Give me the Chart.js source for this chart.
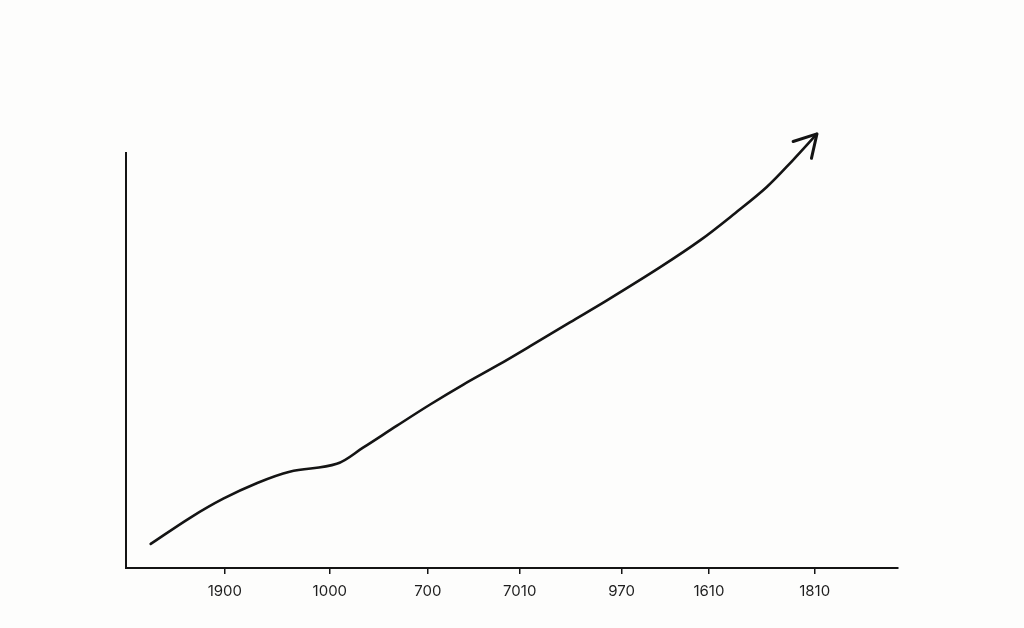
<!DOCTYPE html>
<html>
<head>
<meta charset="utf-8">
<script src="https://cdn.jsdelivr.net/npm/chart.js@4/dist/chart.umd.min.js"></script>
<style>
  html, body { margin: 0; padding: 0; background: #fdfdfc; }
  #wrap { width: 1024px; height: 628px; }
</style>
</head>
<body>
<div id="wrap"><canvas id="chart" width="1024" height="628"></canvas></div>
<script>
// tick labels and where they sit on the x axis (0-100 units)
const tickLabels = ['1900', '1000', '700', '7010', '970', '1610', '1810'];
const tickPositions = [12.8, 26.4, 39.1, 51.0, 64.2, 75.5, 89.2];

// the curve
const curveX = [3.2, 8.3, 12.6, 17.0, 21.2, 27.3, 30.7, 35.1, 39.4, 43.7, 48.1, 52.3,
                57.5, 62.3, 69.2, 74.4, 78.9, 83.0, 86.4, 89.5];
const curveY = [5.8, 12.1, 16.7, 20.5, 23.2, 25.1, 29.0, 34.3, 39.4, 44.2, 48.8, 53.4,
                59.2, 64.5, 72.5, 79.0, 85.5, 91.8, 98.3, 104.6];

const ink = '#141414';

// draws the arrow head at the end of the line
const arrowHead = {
  id: 'arrowHead',
  afterDatasetsDraw(chart) {
    const pts = chart.getDatasetMeta(0).data;
    const end = pts[pts.length - 1];
    const prev = pts[pts.length - 2];
    const ang = Math.atan2(end.y - prev.y, end.x - prev.x);
    const len = 25, spread = 0.52;
    const ctx = chart.ctx;
    ctx.save();
    ctx.strokeStyle = ink;
    ctx.lineWidth = 3;
    ctx.lineCap = 'round';
    ctx.lineJoin = 'round';
    ctx.beginPath();
    ctx.moveTo(end.x - len * Math.cos(ang - spread), end.y - len * Math.sin(ang - spread));
    ctx.lineTo(end.x, end.y);
    ctx.lineTo(end.x - len * Math.cos(ang + spread), end.y - len * Math.sin(ang + spread));
    ctx.stroke();
    ctx.restore();
  }
};

new Chart(document.getElementById('chart'), {
  type: 'line',
  data: {
    datasets: [{
      data: curveX.map((x, i) => ({ x: x, y: curveY[i] })),
      borderColor: ink,
      borderWidth: 2.6,
      borderCapStyle: 'round',
      pointRadius: 0,
      tension: 0.35,
      clip: false,
      fill: false
    }]
  },
  options: {
    responsive: false,
    animation: false,
    layout: { padding: { left: 126, right: 126, top: 153, bottom: 20 } },
    plugins: { legend: { display: false }, tooltip: { enabled: false } },
    scales: {
      x: {
        type: 'linear',
        min: 0,
        max: 100,
        afterBuildTicks: (axis) => {
          axis.ticks = tickPositions.map(v => ({ value: v }));
        },
        ticks: {
          autoSkip: false,
          maxRotation: 0,
          padding: 8,
          color: '#1e1e1e',
          font: { family: 'Inter', size: 15 },
          callback: (v) => tickLabels[tickPositions.indexOf(v)]
        },
        grid: { drawOnChartArea: false, drawTicks: true, tickLength: 6, color: ink, lineWidth: 1.5 },
        border: { color: ink, width: 2 }
      },
      y: {
        min: 0,
        max: 100,
        ticks: { display: false },
        grid: { display: false, drawTicks: false },
        border: { color: ink, width: 2 }
      }
    }
  },
  plugins: [arrowHead]
});
</script>
</body>
</html>
